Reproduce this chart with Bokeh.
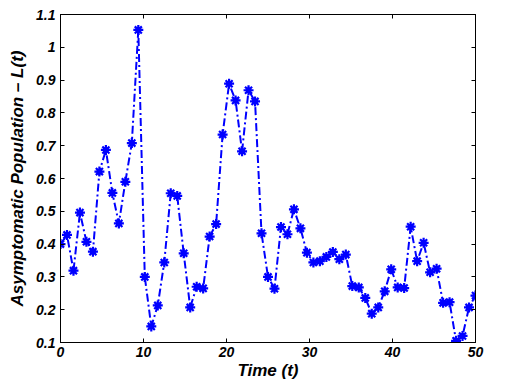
from bokeh.plotting import figure
from bokeh.models import LinearAxis, Range1d, FixedTicker
from bokeh.embed import file_html
from bokeh.resources import INLINE

t_start = 0.0
t_end = 50.0
L_values = [0.400, 0.428, 0.319, 0.496, 0.407, 0.377, 0.621, 0.687, 0.556, 0.463,
            0.590, 0.708, 1.053, 0.300, 0.149, 0.213, 0.344, 0.555, 0.547, 0.372,
            0.207, 0.270, 0.265, 0.423, 0.461, 0.734, 0.889, 0.838, 0.683, 0.869,
            0.835, 0.433, 0.300, 0.264, 0.452, 0.430, 0.506, 0.448, 0.374, 0.344,
            0.348, 0.361, 0.376, 0.354, 0.368, 0.272, 0.268, 0.236, 0.188, 0.207,
            0.256, 0.323, 0.268, 0.266, 0.453, 0.348, 0.404, 0.314, 0.325, 0.221,
            0.223, 0.105, 0.120, 0.207, 0.243]
n = len(L_values)
time_values = [t_start + i * (t_end - t_start) / (n - 1) for i in range(n)]
x_ticks = [0, 10, 20, 30, 40, 50]
y_ticks = [0.1, 0.2, 0.3, 0.4, 0.5, 0.6, 0.7, 0.8, 0.9, 1.0, 1.1]
y_tick_labels = {0.1: "0.1", 0.2: "0.2", 0.3: "0.3", 0.4: "0.4", 0.5: "0.5", 0.6: "0.6",
                 0.7: "0.7", 0.8: "0.8", 0.9: "0.9", 1.0: "1", 1.1: "1.1"}
x_label = "Time (t)"
y_label = "Asymptomatic Population \u2013 L(t)"

FONT = "Liberation Sans"
BLUE = "#0000FF"

p = figure(width=509, height=386, output_backend="svg", toolbar_location=None,
           x_range=Range1d(0, 50), y_range=Range1d(0.1, 1.1),
           min_border_left=60, min_border_right=34, min_border_top=14, min_border_bottom=44)
p.xgrid.visible = False
p.ygrid.visible = False
p.outline_line_color = "black"
p.outline_line_width = 1
p.background_fill_color = "white"
p.border_fill_color = "white"

p.line(time_values, L_values, line_color=BLUE, line_width=2, line_dash="8 3 2 3")
p.scatter(time_values, L_values, marker="asterisk", size=10, line_color=BLUE, line_width=2.2)
p.scatter(time_values, L_values, marker="circle", size=5, fill_color=BLUE, line_color=BLUE)

def style_axis(ax, labels=True):
    ax.axis_line_color = "black"
    ax.major_tick_in = 4
    ax.major_tick_out = 0
    ax.minor_tick_in = 0
    ax.minor_tick_out = 0
    ax.major_tick_line_color = "black"
    ax.major_label_text_font = FONT
    ax.major_label_text_font_style = "bold italic"
    ax.major_label_text_font_size = "14px"
    ax.major_label_text_color = "black"
    ax.axis_label_text_font = FONT
    ax.axis_label_text_font_style = "bold italic"
    ax.axis_label_text_font_size = "17px"
    ax.axis_label_text_color = "black"
    if not labels:
        ax.major_label_overrides = {tk: "" for tk in ax.ticker.ticks}
        ax.major_label_standoff = 0

p.xaxis.ticker = FixedTicker(ticks=x_ticks)
p.yaxis.ticker = FixedTicker(ticks=y_ticks)
p.yaxis.major_label_overrides = y_tick_labels
style_axis(p.xaxis[0])
style_axis(p.yaxis[0])
p.xaxis.axis_label = x_label
p.yaxis.axis_label = y_label
p.xaxis.major_label_standoff = 4
p.xaxis.axis_label_standoff = 1
p.yaxis.major_label_standoff = 5
p.yaxis.axis_label_standoff = 6

top = LinearAxis(ticker=FixedTicker(ticks=x_ticks))
style_axis(top, labels=False)
p.add_layout(top, "above")
right = LinearAxis(ticker=FixedTicker(ticks=y_ticks))
style_axis(right, labels=False)
p.add_layout(right, "right")

open("out.html", "w").write(file_html(p, INLINE))
